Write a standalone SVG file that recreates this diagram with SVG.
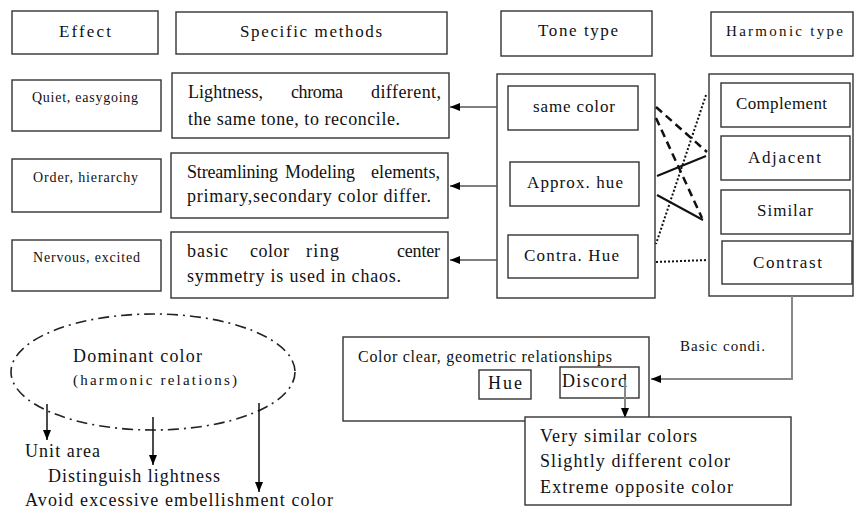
<svg xmlns="http://www.w3.org/2000/svg" width="856" height="509" viewBox="0 0 856 509">
<style>
.b{fill:#fff;stroke:#333;stroke-width:1.4}
text{font-family:"Liberation Serif",Tinos,"Times New Roman","Nimbus Roman","Noto Serif","DejaVu Serif",FreeSerif,serif;fill:#111}
.h{font-size:17px}
.e{font-size:14px}
.m{font-size:18px}
.t{font-size:17px}
.a{stroke:#555;stroke-width:1.5;fill:none}
.k{stroke:#111;stroke-width:1.5;fill:none}
</style>
<defs>
<marker id="ah" markerWidth="10" markerHeight="8" refX="10" refY="4" orient="auto" markerUnits="userSpaceOnUse"><path d="M0,0 L10,4 L0,8 z" fill="#000"/></marker>
</defs>

<g id="hdr-effect"><rect class="b" x="12" y="11" width="146" height="43"/><text class="h" x="59" y="37" textLength="52" lengthAdjust="spacing">Effect</text></g>
<g id="hdr-methods"><rect class="b" x="176" y="12" width="271" height="42"/><text class="h" x="240" y="37" textLength="142" lengthAdjust="spacing">Specific methods</text></g>
<g id="hdr-tone"><rect class="b" x="501" y="11" width="151" height="45"/><text class="h" x="538" y="36" textLength="80" lengthAdjust="spacing">Tone type</text></g>
<g id="hdr-harmonic"><rect class="b" x="711" y="12" width="142" height="44"/><text class="h" x="726" y="36" style="font-size:15px" textLength="117" lengthAdjust="spacing">Harmonic type</text></g>

<g id="eff-quiet"><rect class="b" x="12" y="80" width="149" height="51"/><text class="e" x="32" y="102" textLength="106" lengthAdjust="spacing">Quiet, easygoing</text></g>
<g id="eff-order"><rect class="b" x="12" y="159" width="149" height="53"/><text class="e" x="33" y="182" textLength="105" lengthAdjust="spacing">Order, hierarchy</text></g>
<g id="eff-nervous"><rect class="b" x="12" y="240" width="149" height="51"/><text class="e" x="33" y="262" textLength="107" lengthAdjust="spacing">Nervous, excited</text></g>

<g id="m-light"><rect class="b" x="172" y="73" width="277" height="65"/>
<text class="m" x="188" y="98" textLength="75" lengthAdjust="spacing">Lightness,</text>
<text class="m" x="291" y="98" textLength="52" lengthAdjust="spacing">chroma</text>
<text class="m" x="371" y="98" textLength="70" lengthAdjust="spacing">different,</text>
<text class="m" x="188" y="125" textLength="212" lengthAdjust="spacing">the same tone, to reconcile.</text></g>
<g id="m-stream"><rect class="b" x="171" y="153" width="277" height="65"/>
<text class="m" x="187" y="178" textLength="91" lengthAdjust="spacing">Streamlining</text>
<text class="m" x="285" y="178" textLength="70" lengthAdjust="spacing">Modeling</text>
<text class="m" x="371" y="178" textLength="69" lengthAdjust="spacing">elements,</text>
<text class="m" x="187" y="202" textLength="244" lengthAdjust="spacing">primary,secondary color differ.</text></g>
<g id="m-basic"><rect class="b" x="171" y="232" width="277" height="66"/>
<text class="m" x="187" y="257" textLength="41" lengthAdjust="spacing">basic</text>
<text class="m" x="250" y="257" textLength="39" lengthAdjust="spacing">color</text>
<text class="m" x="306" y="257" textLength="33" lengthAdjust="spacing">ring</text>
<text class="m" x="397" y="257" textLength="43" lengthAdjust="spacing">center</text>
<text class="m" x="187" y="282" textLength="214" lengthAdjust="spacing">symmetry is used in chaos.</text></g>

<g id="tone"><rect class="b" x="497" y="74" width="158" height="224"/>
<rect class="b" x="508" y="86" width="130" height="44"/><text class="t" x="533" y="112" textLength="82" lengthAdjust="spacing">same color</text>
<rect class="b" x="510" y="162" width="129" height="44"/><text class="t" x="527" y="188" textLength="96" lengthAdjust="spacing">Approx. hue</text>
<rect class="b" x="508" y="235" width="130" height="43"/><text class="t" x="524" y="261" textLength="95" lengthAdjust="spacing">Contra. Hue</text></g>

<g id="harmonic"><rect class="b" x="709" y="74" width="144" height="222"/>
<rect class="b" x="721" y="83" width="129" height="44"/><text class="t" x="736" y="109" textLength="91" lengthAdjust="spacing">Complement</text>
<rect class="b" x="721" y="136" width="129" height="44"/><text class="t" x="748" y="163" textLength="73" lengthAdjust="spacing">Adjacent</text>
<rect class="b" x="721" y="190" width="129" height="44"/><text class="t" x="757" y="216" textLength="56" lengthAdjust="spacing">Similar</text>
<rect class="b" x="722" y="241" width="130" height="43"/><text class="t" x="753" y="268" textLength="69" lengthAdjust="spacing">Contrast</text></g>

<g id="dominant">
<ellipse cx="153" cy="372" rx="142" ry="58" fill="none" stroke="#222" stroke-width="1.6" stroke-dasharray="11 5 2 5"/>
<text x="73" y="362" style="font-size:18px" textLength="129" lengthAdjust="spacing">Dominant color</text>
<text x="73" y="385" style="font-size:15px" textLength="164" lengthAdjust="spacing">(harmonic relations)</text></g>
<g id="out-unit"><text x="25" y="457" style="font-size:18px" textLength="75" lengthAdjust="spacing">Unit area</text></g>
<g id="out-light"><text x="48" y="482" style="font-size:18px" textLength="172" lengthAdjust="spacing">Distinguish lightness</text></g>
<g id="out-avoid"><text x="25" y="506" style="font-size:18px" textLength="308" lengthAdjust="spacing">Avoid excessive embellishment color</text></g>

<g id="geo"><rect class="b" x="343" y="337" width="306" height="84"/>
<text x="358" y="362" style="font-size:16px" textLength="254" lengthAdjust="spacing">Color clear, geometric relationships</text>
<rect class="b" x="479" y="370" width="52" height="29"/><text x="488" y="389" style="font-size:18px" textLength="34" lengthAdjust="spacing">Hue</text>
<rect class="b" x="560" y="367" width="79" height="31"/><text x="562" y="387" style="font-size:18px" textLength="65" lengthAdjust="spacing">Discord</text></g>
<g id="basic-label"><text x="680" y="351" style="font-size:15px" textLength="85" lengthAdjust="spacing">Basic condi.</text></g>

<g id="list"><rect class="b" x="525" y="417" width="266" height="88"/>
<text x="540" y="442" style="font-size:18px" textLength="157" lengthAdjust="spacing">Very similar colors</text>
<text x="540" y="467" style="font-size:18px" textLength="190" lengthAdjust="spacing">Slightly different color</text>
<text x="540" y="493" style="font-size:18px" textLength="193" lengthAdjust="spacing">Extreme opposite color</text></g>

<g id="connectors">
<line class="a" x1="497" y1="107" x2="450" y2="107" marker-end="url(#ah)"/>
<line class="a" x1="497" y1="186" x2="450" y2="186" marker-end="url(#ah)"/>
<line class="a" x1="497" y1="260" x2="450" y2="260" stroke="#111" marker-end="url(#ah)"/>
<line x1="656" y1="107" x2="707" y2="152" stroke="#111" stroke-width="2.5" stroke-dasharray="8 5"/>
<line x1="656" y1="118" x2="702" y2="218" stroke="#111" stroke-width="2.5" stroke-dasharray="8 5"/>
<line x1="706" y1="95" x2="656" y2="244" stroke="#111" stroke-width="2" stroke-dasharray="2 2"/>
<line x1="657" y1="176" x2="706" y2="156" stroke="#111" stroke-width="2"/>
<line x1="657" y1="195" x2="703" y2="220" stroke="#111" stroke-width="2"/>
<line x1="656" y1="262" x2="708" y2="260" stroke="#111" stroke-width="2" stroke-dasharray="2 2"/>
<polyline points="792,296 792,379 651,379" fill="none" stroke="#888" stroke-width="2" marker-end="url(#ah)"/>
<line x1="625" y1="380" x2="625" y2="418" stroke="#888" stroke-width="2" marker-end="url(#ah)"/>
<line class="k" x1="47" y1="404" x2="47" y2="440" marker-end="url(#ah)"/>
<line class="k" x1="153" y1="417" x2="153" y2="465" marker-end="url(#ah)"/>
<line class="k" x1="259" y1="403" x2="259" y2="492" marker-end="url(#ah)"/>
</g>
</svg>
